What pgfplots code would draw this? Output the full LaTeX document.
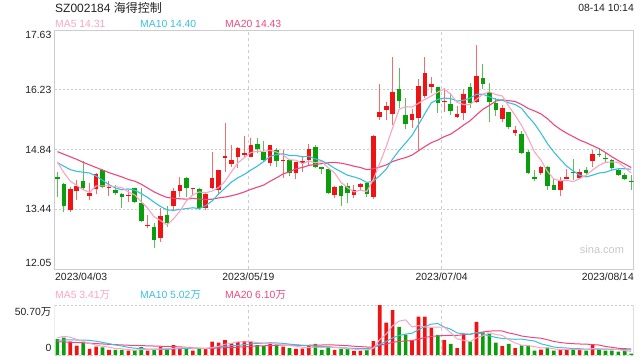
\documentclass[border=0pt]{standalone}
\usepackage{pgfplots}
\pgfplotsset{compat=1.18}
\usepackage{pgfplotstable}
\usepackage{fontspec}
\setmainfont{Liberation Sans}
\newfontfamily\cjk{Noto Sans CJK SC}

\definecolor{upc}{RGB}{238,20,20}
\definecolor{dnc}{RGB}{10,158,10}
\definecolor{upw}{RGB}{242,110,110}
\definecolor{dnw}{RGB}{90,190,90}
\definecolor{maf}{RGB}{250,165,195}
\definecolor{mam}{RGB}{60,190,222}
\definecolor{mas}{RGB}{236,72,125}
\definecolor{grd}{RGB}{205,205,205}
\definecolor{txt}{RGB}{34,34,34}
\definecolor{wm}{RGB}{200,200,200}

\newcommand\fs{\fontsize{10.4}{12}\selectfont}

% x open high low close volume(10k)
\pgfplotstableread{
x o h l c v
2 13.43 13.96 13.39 13.92 13.5
3 13.86 14.13 13.66 13.99 9.5
5 13.76 14.05 13.65 13.82 6.1
6 13.91 14.30 13.80 14.27 8.5
8 13.93 14.10 13.76 13.96 5.1
11 13.75 13.89 13.62 13.77 4.4
14 13.05 13.30 13.00 13.08 4.4
16 12.77 13.47 12.69 13.29 8.5
18 13.51 13.93 13.43 13.86 10.1
19 13.86 14.19 13.74 14.01 6.8
21 13.92 13.95 13.78 13.95 4.4
23 13.48 13.82 13.43 13.80 6.8
24 13.93 14.79 13.91 14.17 13.5
25 13.89 14.37 13.78 14.36 12.5
26 14.65 15.45 14.32 14.68 15.2
27 14.50 14.95 14.44 14.59 11.8
28 14.66 14.91 14.40 14.87 13.2
29 14.72 15.16 14.67 14.75 14.2
30 14.67 15.10 14.66 14.94 13.5
33 14.52 14.95 14.46 14.95 11.8
35 14.56 14.83 14.17 14.59 8.5
37 14.30 14.55 14.15 14.55 6.1
38 14.52 14.66 14.32 14.57 6.4
39 14.59 14.98 14.46 14.85 9.1
43 13.78 13.99 13.70 13.96 5.1
46 13.78 14.01 13.70 13.89 4.1
47 13.96 14.05 13.86 14.03 4.1
49 13.74 15.18 13.68 15.16 14.2
50 15.61 16.37 15.54 15.72 50.7
51 15.76 15.96 15.53 15.86 32.8
52 15.68 16.99 15.41 16.19 45.6
55 15.53 15.78 15.35 15.67 15.2
56 15.58 16.48 14.81 16.32 38.9
57 16.09 17.01 16.04 16.63 38.9
58 16.31 16.53 16.15 16.37 27.7
60 15.95 16.27 15.72 15.98 15.2
62 15.61 15.86 15.57 15.67 7.1
63 15.70 16.25 15.53 16.14 21.0
65 15.96 17.28 15.93 16.56 33.5
69 15.56 15.88 15.49 15.80 9.1
71 15.23 15.39 15.16 15.30 7.1
75 14.28 14.46 14.24 14.42 5.4
78 13.89 14.19 13.75 14.11 5.7
79 14.16 14.38 14.14 14.19 5.7
81 14.17 14.38 14.14 14.32 5.4
83 14.56 14.84 14.42 14.73 10.8
}\up

\pgfplotstableread{
x o h l c v
0 14.20 14.32 13.74 14.14 16.2
1 14.03 14.05 13.39 13.53 17.6
4 14.10 14.56 13.89 13.93 12.5
7 14.36 14.38 13.93 13.96 7.8
9 13.89 14.01 13.78 13.83 5.1
10 13.80 13.82 13.47 13.74 5.1
12 13.93 13.95 13.60 13.62 4.7
13 13.59 13.93 13.15 13.16 8.1
15 13.04 13.13 12.55 12.73 5.4
17 13.31 13.52 13.04 13.13 5.7
20 14.17 14.19 13.72 13.93 6.8
22 13.91 13.93 13.43 13.48 6.8
31 14.98 15.12 14.77 14.85 10.1
32 14.78 15.04 14.58 14.59 9.1
34 14.84 14.88 14.44 14.58 10.8
36 14.59 14.60 14.21 14.28 7.1
40 14.90 14.95 14.40 14.42 11.2
41 14.42 14.43 14.27 14.39 5.1
42 14.38 14.39 13.80 13.82 8.5
44 13.99 14.00 13.51 13.75 6.1
45 13.99 14.05 13.58 13.82 6.1
48 14.05 14.06 13.74 13.80 5.1
53 16.25 16.74 15.82 15.98 28.4
54 15.65 16.04 15.31 15.44 20.6
59 16.29 16.31 15.70 15.93 20.3
61 15.90 16.15 15.65 15.75 11.2
64 16.29 16.40 15.82 15.93 13.5
66 16.50 16.84 16.25 16.37 23.0
67 16.19 16.40 15.49 15.96 21.3
68 15.93 16.04 15.62 15.77 12.5
70 15.71 15.72 15.31 15.36 11.2
72 15.20 15.28 14.74 14.77 9.8
73 14.79 14.84 14.27 14.30 9.8
74 14.19 14.35 14.11 14.16 4.4
76 14.44 14.46 13.89 13.99 7.4
77 14.01 14.14 13.89 13.89 4.4
80 14.31 14.61 14.13 14.28 6.1
82 14.36 14.42 14.24 14.30 4.4
84 14.74 14.87 14.66 14.71 5.4
85 14.65 14.77 14.52 14.62 4.4
86 14.59 14.61 14.36 14.40 4.4
87 14.36 14.40 14.21 14.24 3.4
88 14.24 14.28 14.13 14.14 4.4
89 14.10 14.24 13.89 14.07 1.4
}\dn

\pgfplotstableread{
x m5 m10 m20 v5 v10 v20
0 14.55 14.53 14.79 17.5 15.0 13.5
1 14.30 14.45 14.73 19.0 15.2 13.2
2 14.10 14.37 14.67 18.0 15.3 13.0
3 14.00 14.33 14.61 15.8 15.2 12.7
4 13.90 14.31 14.54 13.86 15.2 12.4
5 13.84 14.29 14.48 11.84 14.8 12.0
6 13.99 14.22 14.42 10.02 14.0 11.6
7 13.99 14.12 14.36 8.88 12.8 11.2
8 13.99 14.02 14.30 8.0 11.5 10.8
9 13.97 13.94 14.25 6.52 10.19 10.5
10 13.95 13.90 14.20 6.32 9.08 10.2
11 13.85 13.92 14.14 5.5 7.76 9.9
12 13.78 13.89 14.10 4.88 6.88 9.7
13 13.62 13.81 14.03 5.48 6.74 9.5
14 13.47 13.72 13.94 5.34 5.93 9.3
15 13.27 13.61 13.85 5.4 5.86 9.1
16 13.18 13.51 13.78 6.22 5.86 8.9
17 13.08 13.43 13.72 6.42 5.65 8.7
18 13.22 13.42 13.70 6.82 6.15 8.5
19 13.40 13.44 13.69 7.3 6.32 8.26
20 13.64 13.46 13.68 7.58 6.49 7.79
21 13.78 13.48 13.70 6.76 6.49 7.13
22 13.85 13.46 13.68 6.98 6.7 6.79
23 13.83 13.53 13.67 6.32 6.57 6.66
24 13.87 13.64 13.68 7.66 7.48 6.71
25 13.95 13.80 13.71 8.8 8.19 7.03
26 14.10 13.94 13.73 10.96 8.86 7.36
27 14.32 14.08 13.76 11.96 9.47 7.56
28 14.53 14.18 13.80 13.24 9.78 7.97
29 14.65 14.26 13.85 13.38 10.52 8.42
30 14.77 14.36 13.91 13.58 11.19 8.84
31 14.80 14.45 13.96 12.56 11.76 9.13
32 14.80 14.56 14.01 12.02 11.99 9.35
33 14.82 14.68 14.10 11.74 12.49 9.53
34 14.78 14.72 14.18 11.06 12.22 9.85
35 14.71 14.74 14.27 10.06 11.82 10.0
36 14.60 14.70 14.32 9.46 11.01 9.94
37 14.59 14.70 14.39 8.86 10.44 9.96
38 14.51 14.67 14.42 7.78 9.76 9.77
39 14.57 14.68 14.47 7.44 9.25 9.89
40 14.53 14.62 14.49 7.98 9.02 10.11
41 14.56 14.58 14.51 7.58 8.52 10.14
42 14.41 14.50 14.53 8.06 8.46 10.23
43 14.29 14.40 14.54 7.8 7.79 10.14
44 14.07 14.32 14.52 7.2 7.32 9.77
45 13.95 14.24 14.49 6.18 7.08 9.45
46 13.85 14.20 14.45 5.98 6.78 8.9
47 13.89 14.15 14.42 5.1 6.58 8.51
48 13.86 14.07 14.37 5.1 6.45 8.11
49 14.14 14.10 14.39 6.72 6.96 8.11
50 14.52 14.23 14.43 15.64 10.91 9.97
51 14.91 14.38 14.48 21.38 13.68 11.1
52 15.35 14.62 14.56 29.68 17.39 12.93
53 15.78 14.82 14.61 34.34 19.72 13.76
54 15.84 14.99 14.65 35.62 21.17 14.25
55 15.83 15.17 14.71 28.52 22.08 14.58
56 15.92 15.42 14.81 29.74 25.56 16.17
57 16.01 15.68 14.91 28.4 29.04 17.81
58 16.09 15.93 15.00 28.26 31.3 18.88
59 16.18 16.01 15.06 28.2 31.91 19.44
60 16.25 16.04 15.14 28.2 28.36 19.64
61 16.13 16.03 15.20 22.66 26.2 19.94
62 15.94 15.97 15.30 16.3 22.35 19.87
63 15.89 15.99 15.41 14.96 21.61 20.67
64 15.89 16.04 15.51 13.6 20.9 21.04
65 16.01 16.13 15.65 17.26 22.73 22.41
66 16.13 16.13 15.78 19.62 21.14 23.35
67 16.19 16.07 15.87 22.46 19.38 24.21
68 16.12 16.01 15.97 20.76 17.86 24.58
69 16.09 15.99 16.00 19.88 16.74 24.33
70 15.85 15.93 15.98 15.42 16.34 22.35
71 15.64 15.89 15.96 12.24 15.93 21.07
72 15.40 15.80 15.89 9.94 16.2 19.28
73 15.11 15.61 15.80 9.4 15.08 18.35
74 14.78 15.44 15.74 8.46 14.17 17.54
75 14.59 15.22 15.67 7.3 11.36 17.05
76 14.33 14.98 15.56 7.36 9.8 15.47
77 14.15 14.78 15.42 6.28 8.11 13.75
78 14.11 14.61 15.31 5.46 7.43 12.65
79 14.12 14.45 15.22 5.72 7.09 11.92
80 14.09 14.34 15.14 5.86 6.58 11.46
81 14.16 14.24 15.06 5.46 6.41 11.17
82 14.24 14.20 15.00 5.46 5.87 11.04
83 14.36 14.24 14.93 6.48 5.97 10.53
84 14.47 14.29 14.86 6.42 6.07 10.12
85 14.54 14.31 14.77 6.08 5.97 8.67
86 14.55 14.36 14.67 5.88 5.67 7.74
87 14.54 14.39 14.58 5.68 5.57 6.84
88 14.42 14.39 14.50 4.4 5.44 6.44
89 14.29 14.38 14.42 3.6 5.01 6.05
}\ma

\pgfplotsset{
  kbase/.style={scale only axis, width=579pt, xmin=-0.45, xmax=89.35,
    ticks=none, axis line style={draw=grd, line width=1pt}, anchor=south west},
  wick/.style={draw=none, mark=none, forget plot,
    error bars/.cd, y dir=plus, y explicit, error mark=none,
    error bar style={draw=#1, solid, line width=1pt}},
  body/.style={draw=none, mark=none, forget plot,
    error bars/.cd, y dir=plus, y explicit, error mark=none,
    error bar style={draw=#1, solid, line width=4.6pt}},
}
\tikzset{lab/.style={inner sep=0pt, font=\fs, text=txt}}

\begin{document}
\begin{tikzpicture}[x=1pt,y=1pt]
\path[use as bounding box] (0,0) rectangle (640,360);

% ---------- price panel ----------
\begin{axis}[kbase, height=239pt, ymin=12.05, ymax=17.63, at={(54.5pt,91pt)}]
\foreach \yy in {13.44,14.84,16.23}{
  \edef\tmp{\noexpand\draw[grd, line width=1pt, dash pattern=on 2pt off 2pt]
    (axis cs:-0.45,\yy) -- (axis cs:89.35,\yy);}\tmp}
\draw[grd, line width=1pt, dash pattern=on 3pt off 3pt] (axis cs:29.6,12.05) -- (axis cs:29.6,17.63);
\draw[grd, line width=1pt, dash pattern=on 3pt off 3pt] (axis cs:59.6,12.05) -- (axis cs:59.6,17.63);
% wicks
\addplot[wick=upw] table[x=x, y=l, y error expr=\thisrow{h}-\thisrow{l}] {\up};
\addplot[wick=dnw] table[x=x, y=l, y error expr=\thisrow{h}-\thisrow{l}] {\dn};
% bodies
\addplot[body=upc] table[x=x, y=o, y error expr=\thisrow{c}-\thisrow{o}] {\up};
\addplot[body=dnc] table[x=x, y=c, y error expr=\thisrow{o}-\thisrow{c}] {\dn};
% moving averages
\addplot[mas, line width=1.1pt, mark=none] table[x=x, y=m20] {\ma};
\addplot[mam, line width=1.1pt, mark=none] table[x=x, y=m10] {\ma};
\addplot[maf, line width=1.1pt, mark=none] table[x=x, y=m5] {\ma};
\end{axis}

% ---------- volume panel ----------
\begin{axis}[kbase, height=50pt, ymin=0, ymax=50.70, at={(54.5pt,5pt)}, axis lines=none]
\draw[grd, line width=1pt, dash pattern=on 2pt off 2pt] (axis cs:-0.45,50.70) -- (axis cs:89.35,50.70);
\draw[grd, line width=1pt, dash pattern=on 2pt off 2pt] (axis cs:-0.45,0) -- (axis cs:89.35,0);
\draw[grd, line width=1pt] (axis cs:-0.45,0) -- (axis cs:-0.45,50.70);
\draw[grd, line width=1pt] (axis cs:89.35,0) -- (axis cs:89.35,50.70);
\draw[grd, line width=1pt, dash pattern=on 3pt off 3pt] (axis cs:29.6,0) -- (axis cs:29.6,50.70);
\draw[grd, line width=1pt, dash pattern=on 3pt off 3pt] (axis cs:59.6,0) -- (axis cs:59.6,50.70);
\addplot[ybar, bar width=3.6pt, bar shift=0pt, fill=upc, draw=none] table[x=x, y=v] {\up};
\addplot[ybar, bar width=3.6pt, bar shift=0pt, fill=dnc, draw=none] table[x=x, y=v] {\dn};
\addplot[mas, line width=1pt, mark=none] table[x=x, y=v20] {\ma};
\addplot[mam, line width=1pt, mark=none] table[x=x, y=v10] {\ma};
\addplot[maf, line width=1pt, mark=none] table[x=x, y=v5] {\ma};
\end{axis}

% ---------- texts ----------
\node[lab, anchor=west, font=\fontsize{12}{14}\selectfont] at (55,352) {SZ002184 {\cjk 海得控制}};
\node[lab, anchor=east] at (634,352) {08-14 10:14};
\node[lab, anchor=west, text=maf] at (55,336) {MA5 14.31};
\node[lab, anchor=west, text=mam] at (140,336) {MA10 14.40};
\node[lab, anchor=west, text=mas] at (225,336) {MA20 14.43};

\node[lab, anchor=east] at (51.5,325) {17.63};
\node[lab, anchor=east] at (51.5,270.5) {16.23};
\node[lab, anchor=east] at (51.5,210.5) {14.84};
\node[lab, anchor=east] at (51.5,150.7) {13.44};
\node[lab, anchor=east] at (51.5,97) {12.05};

\node[lab, anchor=west] at (55,83) {2023/04/03};
\node[lab] at (248.3,83) {2023/05/19};
\node[lab] at (441.7,83) {2023/07/04};
\node[lab, anchor=east] at (634,83) {2023/08/14};
\node[lab, text=wm, font=\fontsize{11}{13}\selectfont] at (602,110) {sina.com};

\node[lab, anchor=west, text=maf] at (55,65) {MA5 3.41{\cjk 万}};
\node[lab, anchor=west, text=mam] at (140,65) {MA10 5.02{\cjk 万}};
\node[lab, anchor=west, text=mas] at (225,65) {MA20 6.10{\cjk 万}};
\node[lab, anchor=east] at (51.5,48) {50.70{\cjk 万}};
\node[lab, anchor=east] at (51.5,12) {0};
\end{tikzpicture}
\end{document}
